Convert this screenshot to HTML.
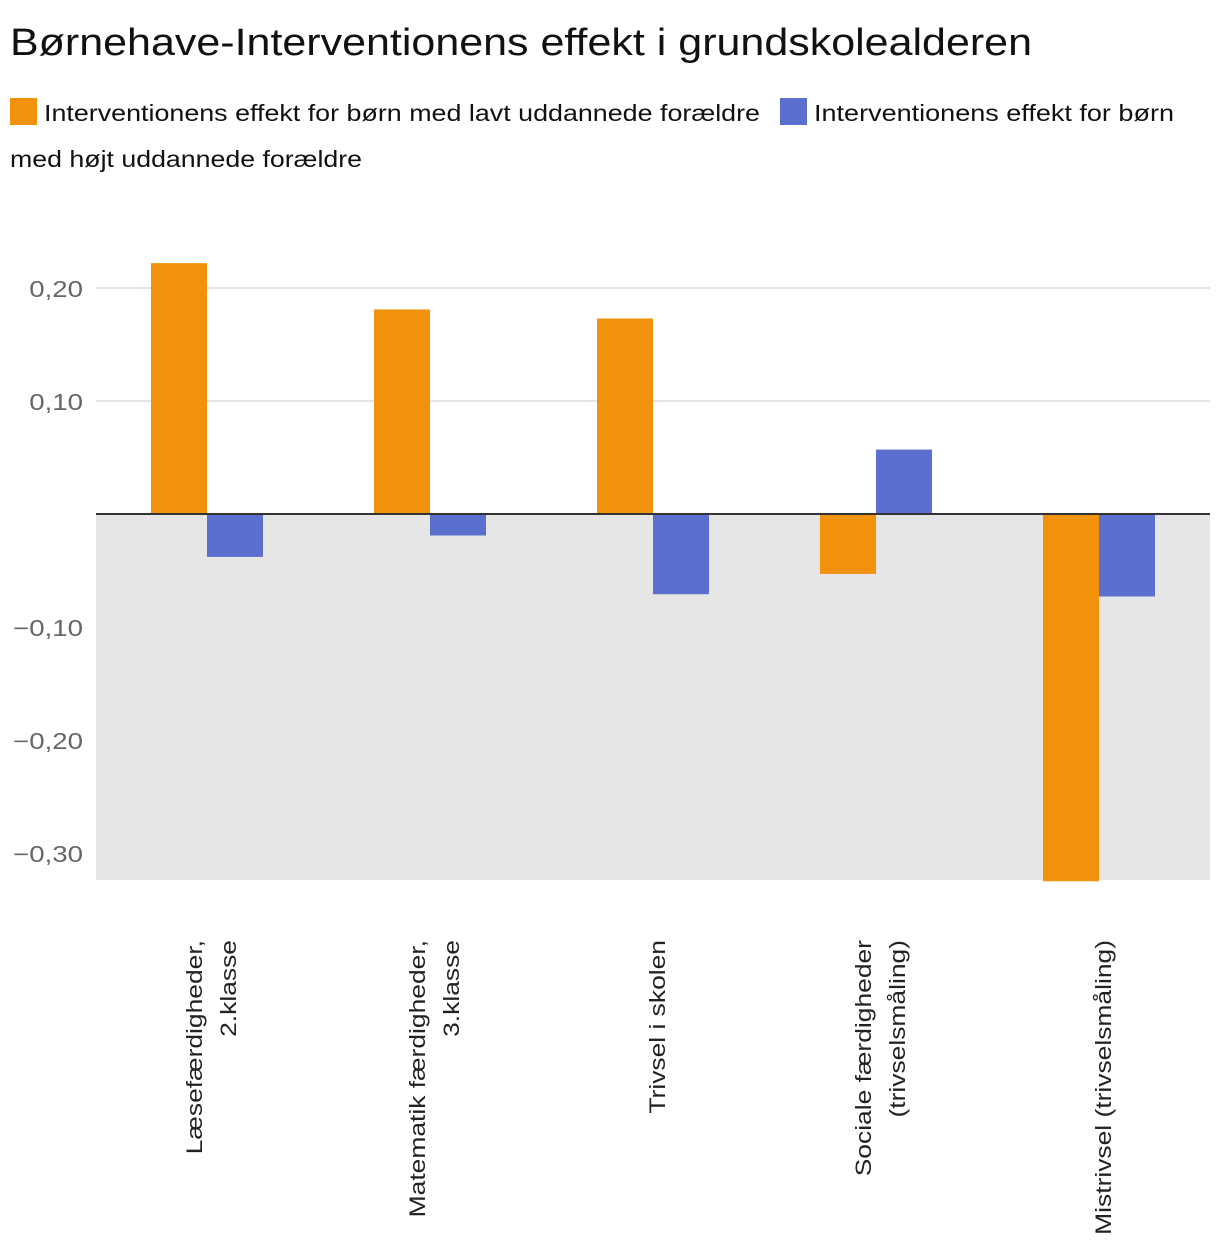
<!DOCTYPE html>
<html><head><meta charset="utf-8"><style>
body{margin:0;background:#fff;font-family:"Liberation Sans",sans-serif;}
#wrap{position:relative;width:1220px;height:1256px;overflow:hidden}
</style></head><body>
<div id="wrap">
<svg id="svg" width="1220" height="1256" style="position:absolute;left:0;top:0" font-family="Liberation Sans, sans-serif">
<text x="10" y="55" font-size="38" fill="#111" textLength="1022" lengthAdjust="spacingAndGlyphs">Børnehave-Interventionens effekt i grundskolealderen</text>
<g>
<rect x="10" y="98" width="27" height="27" fill="#f2910c"/>
<text x="44" y="121" font-size="23" fill="#111" textLength="716" lengthAdjust="spacingAndGlyphs">Interventionens effekt for børn med lavt uddannede forældre</text>
</g>
<g>
<rect x="780" y="98" width="27" height="27" fill="#5b6fcf"/>
<text x="814" y="121" font-size="23" fill="#111" textLength="360" lengthAdjust="spacingAndGlyphs">Interventionens effekt for børn</text>
<text x="10" y="167" font-size="23" fill="#111" textLength="352" lengthAdjust="spacingAndGlyphs">med højt uddannede forældre</text>
</g>
</svg>
</div>
<script>
const categories=[["Læsefærdigheder,","2.klasse"],["Matematik færdigheder,","3.klasse"],["Trivsel i skolen"],["Sociale færdigheder","(trivselsmåling)"],["Mistrivsel (trivselsmåling)"]];
const lowValues=[0.222,0.181,0.173,-0.053,-0.325];
const highValues=[-0.038,-0.019,-0.071,0.057,-0.073];
const tickValues=[0.2,0.1,-0.1,-0.2,-0.3];
const tickLabels=["0,20","0,10","−0,10","−0,20","−0,30"];
const NS="http://www.w3.org/2000/svg";
const svg=document.getElementById('svg');
const y0=514,k=1130,left=96,right=1210,bottomY=880;
const y=v=>y0-v*k;
const xc=i=>207+i*223;
function mk(t,a){const e=document.createElementNS(NS,t);for(const n in a)e.setAttribute(n,a[n]);svg.appendChild(e);return e;}
function stretch(t,f){const L=t.getComputedTextLength();t.setAttribute('textLength',L*f);t.setAttribute('lengthAdjust','spacingAndGlyphs');}
let g=mk('rect',{x:left,y:y0,width:right-left,height:bottomY-y0,fill:'#e6e6e6'});


tickValues.forEach((v,i)=>{
  if(v>0){let l=mk('line',{x1:left,x2:right,y1:y(v),y2:y(v),stroke:'#e4e4e4','stroke-width':2});
  
  }
  let t=mk('text',{x:83,y:y(v)+9,'text-anchor':'end','font-size':23,fill:'#666'});
  t.textContent=tickLabels[i];
  
  
  stretch(t,1.2);
});
categories.forEach((c,i)=>{
  const bw=56;
  [[lowValues[i],'#f2910c',-bw,'bar-low'],[highValues[i],'#5b6fcf',0,'bar-high']].forEach(([v,col,off,nm])=>{
    let r=mk('rect',{x:xc(i)+off,y:Math.min(y(v),y0),width:bw,height:Math.abs(y(v)-y0),fill:col});
    
    
  });
  c.forEach((line,j)=>{
    const bx=xc(i)+12+(j-(c.length-1)/2)*34;
    let t=mk('text',{x:bx,y:940,'text-anchor':'end','font-size':22,fill:'#222',transform:`rotate(-90 ${bx} 940)`});
    t.textContent=line;
    
    
    stretch(t,1.2);
  });
});
let z=mk('line',{x1:left,x2:right,y1:y0,y2:y0,stroke:'#333','stroke-width':2});


</script>
</body></html>
